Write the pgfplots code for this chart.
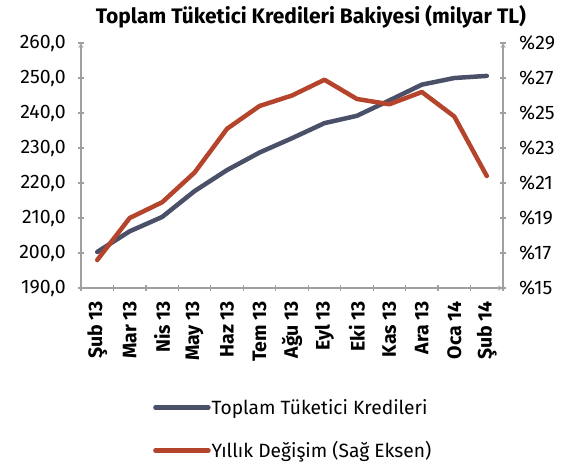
\documentclass[border=0pt]{standalone}
\usepackage{pgfplots}
\pgfplotsset{compat=1.18}
\usepackage{fontspec}
\setmainfont{Fira Sans}
\definecolor{navy}{HTML}{4B5069}
\definecolor{rust}{HTML}{B4442C}
\definecolor{axgray}{HTML}{A0A0A0}

\pgfplotstableread{
x bakiye degisim
0 200.3 16.6
1 206.2 19.0
2 210.3 19.9
3 217.7 21.6
4 223.7 24.1
5 228.7 25.4
6 232.8 26.0
7 237.1 26.9
8 239.2 25.8
9 243.6 25.5
10 248.1 26.2
11 250.0 24.8
12 250.6 21.4
}\datatable

\begin{document}
\begin{tikzpicture}
\pgfplotsset{
 common/.style={
  scale only axis, width=422pt, height=245pt, at={(0,0)}, anchor=south west,
  xmin=-0.5, xmax=12.5,
  axis line style={axgray, line width=1.2pt, -},
  tick style={axgray, line width=1.2pt},
  major tick length=6pt,
  tick align=outside,
  /pgf/number format/assume math mode=true,
  yticklabel style={font=\fontsize{19.5}{20}\selectfont, inner sep=0pt},
  clip=false,
 }
}
\begin{axis}[common,
  axis x line=bottom, axis y line=left,
  ymin=190, ymax=260, ytick={190,200,...,260},
  yticklabel style={/pgf/number format/.cd, fixed, fixed zerofill, precision=1, use comma, /tikz/.cd, xshift=-12pt},
  xtick={-0.5,0.5,...,12.5}, xticklabels=\empty,
  extra x ticks={0,...,12},
  extra x tick labels={Şub 13,Mar 13,Nis 13,May 13,Haz 13,Tem 13,Ağu 13,Eyl 13,Eki 13,Kas 13,Ara 13,Oca 14,Şub 14},
  extra x tick style={major tick length=0pt, tick style={draw=none}},
  xticklabel style={yshift=-13pt, rotate=90, anchor=east, inner sep=0pt, font=\bfseries\fontsize{19.5}{19.5}\selectfont},
]
\addplot[navy, line width=4.5pt, line join=round, line cap=round] table[x=x, y=bakiye] {\datatable};
\end{axis}
\begin{axis}[common,
  axis x line=none, axis y line=right,
  ymin=15, ymax=29, ytick={15,17,...,29},
  yticklabel={\%\pgfmathprintnumber{\tick}},
  yticklabel style={xshift=13pt},
  legend style={at={(0.1706,-0.449)}, anchor=north west, draw=none, fill=none, inner sep=0pt,
    font=\fontsize{19.2}{21}\selectfont, row sep=24pt, legend cell align=left,
    nodes={inner sep=1pt}},
  legend image code/.code={\draw[#1, line cap=round] (0pt,0pt) -- (53pt,0pt);},
]
\addlegendimage{navy, line width=4.5pt}
\addlegendentry{Toplam Tüketici Kredileri}
\addplot[rust, line width=4.5pt, line join=round, line cap=round] table[x=x, y=degisim] {\datatable};
\addlegendentry{Yıllık Değişim (Sağ Eksen)}
\end{axis}
\node[anchor=base, font=\bfseries\fontsize{21}{21}\selectfont] at (230pt,264pt) {Toplam Tüketici Kredileri Bakiyesi (milyar TL)};
\pgfresetboundingbox
\useasboundingbox (-81pt,-177pt) rectangle (483pt,288pt);
\end{tikzpicture}
\end{document}
